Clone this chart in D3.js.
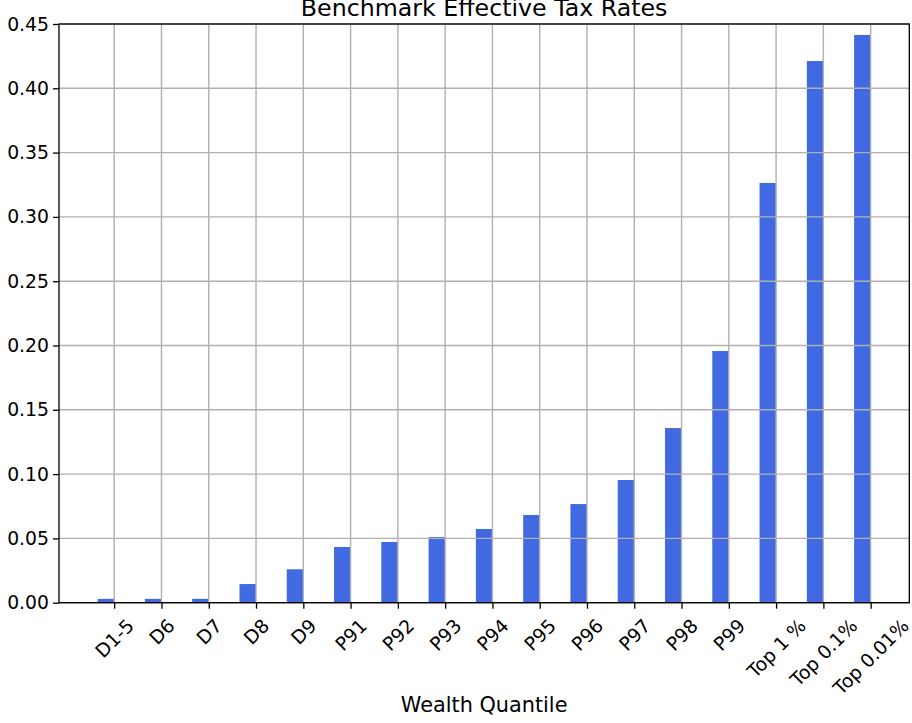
<!DOCTYPE html>
<html>
<head>
<meta charset="utf-8">
<script src="https://cdn.jsdelivr.net/npm/d3@7"></script>
<style>
  html, body { margin: 0; padding: 0; background: #fff; }
  svg { display: block; font-family: "DejaVu Sans", sans-serif; }
</style>
</head>
<body>
<svg id="chart" width="912" height="723"></svg>
<script>
const categories = ["D1-5","D6","D7","D8","D9","P91","P92","P93","P94","P95","P96","P97","P98","P99","Top 1 %","Top 0.1%","Top 0.01%"];
const rates = [0.003,0.003,0.003,0.0145,0.026,0.0433,0.0472,0.0511,0.0573,0.0682,0.0767,0.0954,0.1358,0.1957,0.3264,0.4212,0.4415];
const yTicks = [0,0.05,0.10,0.15,0.20,0.25,0.30,0.35,0.40,0.45];
const title = "Benchmark Effective Tax Rates";
const xLabel = "Wealth Quantile";

const svg = d3.select("#chart");
const L = 59, R = 909.3, T = 24, B = 602.7;
const barW = 0.35;
const n = categories.length;
const x = d3.scaleLinear().domain([-barW - 0.05*(n-1+barW), (n-1) + 0.05*(n-1+barW)]).range([L, R]);
const y = d3.scaleLinear().domain([0, 0.45]).range([B, T]);

const tickFs = 18.8, labelFs = 20.8, titleFs = 23.7;

// bars
svg.append("g").selectAll("rect").data(rates).join("rect")
  .attr("x", (d,i) => x(i - barW))
  .attr("width", (d,i) => x(i) - x(i - barW))
  .attr("y", d => y(d))
  .attr("height", d => y(0) - y(d))
  .attr("fill", "#4169E1");

// grid (drawn over bars)
const grid = svg.append("g").attr("stroke", "#b0b0b0").attr("stroke-width", 1.4);
grid.selectAll("line.v").data(d3.range(n)).join("line").attr("class","v")
  .attr("x1", i => x(i)).attr("x2", i => x(i)).attr("y1", T).attr("y2", B);
grid.selectAll("line.h").data(yTicks).join("line").attr("class","h")
  .attr("x1", L).attr("x2", R).attr("y1", d => y(d)).attr("y2", d => y(d));

// frame
svg.append("rect").attr("x", L).attr("y", T).attr("width", R - L).attr("height", B - T)
  .attr("fill", "none").attr("stroke", "#000").attr("stroke-width", 1.3);

// y axis
const yAxis = d3.axisLeft(y).tickValues(yTicks).tickFormat(d3.format(".2f")).tickSize(6).tickPadding(4);
const gy = svg.append("g").attr("transform", `translate(${L},0)`).call(yAxis);
gy.select(".domain").remove();
gy.selectAll(".tick line").attr("stroke", "#000").attr("stroke-width", 1.3);
gy.selectAll(".tick text").attr("font-size", tickFs).attr("fill", "#000").attr("font-family", "DejaVu Sans");

// x axis
const xAxis = d3.axisBottom(x).tickValues(d3.range(n)).tickFormat(i => categories[i]).tickSize(6).tickPadding(6);
const gx = svg.append("g").attr("transform", `translate(0,${B})`).call(xAxis);
gx.select(".domain").remove();
gx.selectAll(".tick line").attr("stroke", "#000").attr("stroke-width", 1.3);
gx.selectAll(".tick text").each(function() {
  const t = d3.select(this);
  t.attr("font-size", tickFs).attr("fill", "#000").attr("font-family", "DejaVu Sans")
   .attr("text-anchor", "middle").attr("dy", null).attr("y", 0);
  const w = this.getComputedTextLength();
  const lh = tickFs * 1.17;
  const H = (w + lh) * Math.SQRT1_2;
  const cy = 12 + H / 2;
  t.attr("dominant-baseline", "central")
   .attr("transform", `translate(0,${cy}) rotate(-45)`);
});

// x label
svg.append("text").attr("x", (L + R) / 2).attr("y", 712).attr("text-anchor", "middle")
  .attr("font-size", labelFs).attr("fill", "#000").text(xLabel);

// title
svg.append("text").attr("x", (L + R) / 2).attr("y", 16).attr("text-anchor", "middle")
  .attr("font-size", titleFs).attr("fill", "#000").text(title);
</script>
</body>
</html>
